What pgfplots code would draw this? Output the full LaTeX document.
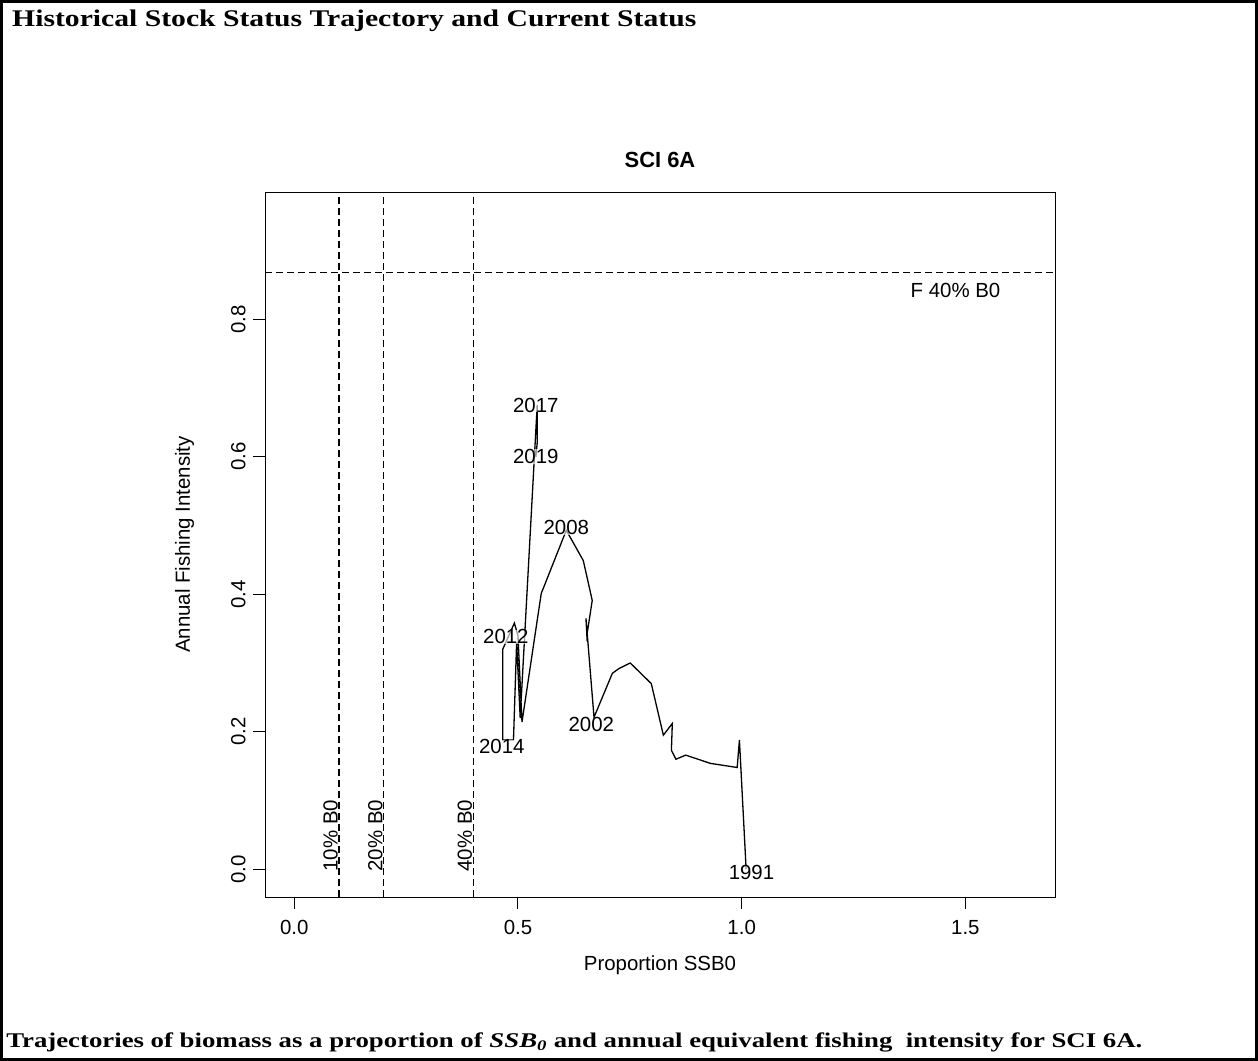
\documentclass[border=0pt]{standalone}
\usepackage{pgfplots}
\pgfplotsset{compat=1.18}
\usepackage{fontspec}
\setmainfont{Liberation Serif}
\newfontfamily\arial{Liberation Sans}
\begin{document}
\begin{tikzpicture}[x=1bp,y=1bp]
\draw[line width=3bp] (1.5,-1.5) rectangle (1256.5,-1059.5);
\node[anchor=west,inner sep=0pt,xscale=1.24,font=\bfseries\fontsize{24}{26}\selectfont] at (12,-21) {Historical Stock Status Trajectory and Current Status};
\node[anchor=west,inner sep=0pt,xscale=1.28,font=\bfseries\fontsize{21}{23}\selectfont] at (6,-1042) {Trajectories of biomass as a proportion of \textit{SSB\textsubscript{0}} and annual equivalent fishing\ \ intensity for SCI 6A.};
\node[font=\arial\bfseries\fontsize{22}{25}\selectfont] at (660,-160) {SCI 6A};
\begin{axis}[at={(265bp,-897bp)},anchor=south west,scale only axis,
 width=790bp,height=705bp,
 xmin=-0.0654,xmax=1.7004,ymin=-0.0404,ymax=0.985,
 font=\arial\fontsize{20.5}{23}\selectfont,
 /pgf/number format/assume math mode=true,
 /pgf/number format/.cd,fixed,fixed zerofill,precision=1,/pgfplots/.cd,
 xtick={0,0.5,1,1.5},ytick={0,0.2,0.4,0.6,0.8},
 tick align=outside,major tick length=12bp,tick style={black,line width=1bp},
 xtick pos=bottom,ytick pos=left,
 yticklabel style={rotate=90,anchor=south,yshift=4bp},
 xticklabel style={yshift=-8bp},
 axis line style={line width=1bp},
 xlabel={Proportion SSB0},ylabel={Annual Fishing Intensity},
 xlabel style={yshift=-14bp},ylabel style={yshift=30bp},
 clip=false]
\addplot[black,line width=1.3bp] coordinates {
(1.01,0.0)(0.995,0.188)(0.99,0.148)(0.93,0.154)(0.875,0.166)(0.853,0.16)(0.843,0.173)(0.845,0.212)(0.825,0.195)(0.798,0.27)(0.751,0.30)(0.726,0.292)(0.711,0.285)(0.670,0.221)(0.652,0.365)(0.654,0.34)(0.666,0.391)(0.646,0.449)(0.608,0.493)(0.552,0.401)(0.509,0.214)(0.500,0.34)(0.492,0.358)(0.466,0.32)(0.466,0.188)(0.490,0.188)(0.497,0.33)(0.505,0.22)(0.543,0.675)(0.543,0.62)(0.540,0.60)};
\addplot[black,dash pattern=on 7bp off 4bp,line width=1.2bp] coordinates {(0.1,-0.0404)(0.1,0.985)};
\addplot[black,dash pattern=on 7bp off 4bp,line width=1.2bp] coordinates {(0.2,-0.0404)(0.2,0.985)};
\addplot[black,dash pattern=on 7bp off 4bp,line width=1.2bp] coordinates {(0.4,-0.0404)(0.4,0.985)};
\addplot[black,dash pattern=on 7bp off 4bp,line width=1.2bp] coordinates {(-0.0654,0.868)(1.7004,0.868)};
\node[rotate=90,anchor=south west,inner sep=1bp] at (axis cs:0.1,-0.005) {10\% B0};
\node[rotate=90,anchor=south west,inner sep=1bp] at (axis cs:0.2,-0.005) {20\% B0};
\node[rotate=90,anchor=south west,inner sep=1bp] at (axis cs:0.4,-0.005) {40\% B0};
\node at (axis cs:1.478,0.842) {F 40\% B0};
\node[fill=white,fill opacity=0.6,text opacity=1,inner sep=0pt] at (axis cs:0.54,0.675) {2017};
\node[fill=white,fill opacity=0.6,text opacity=1,inner sep=0pt] at (axis cs:0.54,0.60) {2019};
\node[fill=white,fill opacity=0.6,text opacity=1,inner sep=0pt] at (axis cs:0.608,0.497) {2008};
\node[fill=white,fill opacity=0.6,text opacity=1,inner sep=0pt] at (axis cs:0.473,0.338) {2012};
\node[fill=white,fill opacity=0.6,text opacity=1,inner sep=0pt] at (axis cs:0.464,0.178) {2014};
\node[fill=white,fill opacity=0.6,text opacity=1,inner sep=0pt] at (axis cs:0.664,0.21) {2002};
\node[fill=white,fill opacity=0.6,text opacity=1,inner sep=0pt] at (axis cs:1.022,-0.004) {1991};
\end{axis}
\end{tikzpicture}
\end{document}
